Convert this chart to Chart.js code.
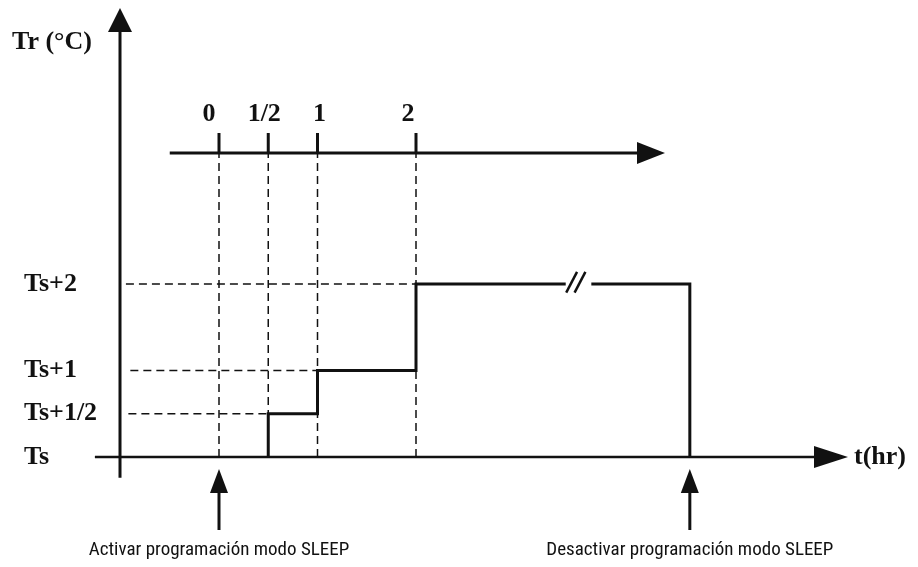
<!DOCTYPE html>
<html>
<head>
<meta charset="utf-8">
<script src="https://cdn.jsdelivr.net/npm/chart.js@4"></script>
<style>
  html, body { margin: 0; padding: 0; background: #fff; }
  #wrap { width: 918px; height: 567px; position: relative; }
</style>
</head>
<body>
<div id="wrap"><canvas id="c"></canvas></div>
<script>
'use strict';

// Time marks on the top scale (hours)
const tickTimes = [0, 0.5, 1, 2];
const tickLabels = ['0', '1/2', '1', '2'];

// Temperature levels
const levelValues = [0, 0.5, 1, 2];
const levelLabels = ['Ts', 'Ts+1/2', 'Ts+1', 'Ts+2'];

// Setpoint steps: time at which each level starts
const stepTimes = [0.5, 1, 2];
const stepLevels = [0.5, 1, 2];

// Broken time axis and switch-off time
const breakStart = 3.52;
const breakEnd = 3.78;
const endTime = 4.78;

// Event markers below the chart
const eventTimes = [0, endTime];
const eventLabels = ['Activar programación modo SLEEP', 'Desactivar programación modo SLEEP'];

// Layout in data units
const yAxisX = -1.005;
const topAxisY = 3.514;
const serif = 'bold 26px "Liberation Serif", "DejaVu Serif", serif';
const tickLabelShift = [-10, -4, 2, -8];

// Build step line
let stepData = [{ x: stepTimes[0], y: 0 }];
let prevLevel = 0;
for (let i = 0; i < stepTimes.length; i++) {
    stepData.push({ x: stepTimes[i], y: prevLevel });
    stepData.push({ x: stepTimes[i], y: stepLevels[i] });
    prevLevel = stepLevels[i];
}
stepData.push({ x: breakStart, y: prevLevel });
let tailData = [{ x: breakEnd, y: prevLevel }, { x: endTime, y: prevLevel }, { x: endTime, y: 0 }];

function solid(data, width) {
    return { data: data, showLine: true, borderColor: '#111', borderWidth: width, pointRadius: 0, fill: false, tension: 0 };
}
function dashed(data) {
    return { data: data, showLine: true, borderColor: '#111', borderWidth: 1.5, borderDash: [8, 5], pointRadius: 0, fill: false };
}

let datasets = [];

// Guide lines
const dashLeft = [-0.88, -0.92, -0.9, -0.945];
for (let i = 0; i < tickTimes.length; i++) {
    datasets.push(dashed([{ x: tickTimes[i], y: 0 }, { x: tickTimes[i], y: topAxisY }]));
}
for (let i = 1; i < levelValues.length; i++) {
    let right = tickTimes[i];
    datasets.push(dashed([{ x: dashLeft[i], y: levelValues[i] }, { x: right, y: levelValues[i] }]));
}

// Axes
datasets.push(solid([{ x: yAxisX, y: -0.24 }, { x: yAxisX, y: 5.0 }], 3));
datasets.push(solid([{ x: -1.26, y: 0 }, { x: 6.1, y: 0 }], 2.5));
datasets.push(solid([{ x: -0.5, y: topAxisY }, { x: 4.3, y: topAxisY }], 3));
for (let i = 0; i < tickTimes.length; i++) {
    datasets.push(solid([{ x: tickTimes[i], y: topAxisY }, { x: tickTimes[i], y: 3.746 }], 3));
}

// Step curve and break mark
datasets.push(solid(stepData, 3));
datasets.push(solid(tailData, 3));
datasets.push(solid([{ x: breakStart + 0.005, y: 1.9 }, { x: breakStart + 0.115, y: 2.14 }], 2.5));
datasets.push(solid([{ x: breakStart + 0.09, y: 1.9 }, { x: breakStart + 0.2, y: 2.14 }], 2.5));

// Event arrows
for (let i = 0; i < eventTimes.length; i++) {
    datasets.push(solid([{ x: eventTimes[i], y: -0.844 }, { x: eventTimes[i], y: -0.3 }], 3));
}

// Arrowheads and text
const decorPlugin = {
    id: 'decor',
    afterDatasetsDraw(chart) {
        const ctx = chart.ctx;
        const xs = chart.scales.x;
        const ys = chart.scales.y;
        const px = (v) => xs.getPixelForValue(v);
        const py = (v) => ys.getPixelForValue(v);

        function tri(ax, ay, bx, by, cx, cy) {
            ctx.beginPath();
            ctx.moveTo(ax, ay);
            ctx.lineTo(bx, by);
            ctx.lineTo(cx, cy);
            ctx.closePath();
            ctx.fill();
        }

        ctx.save();
        ctx.fillStyle = '#111';

        // y axis arrow
        let ax = px(yAxisX);
        tri(ax, 8, ax - 12, 32, ax + 12, 32);
        // time axis arrow
        let ty = py(0);
        tri(848, ty, 814, ty - 11, 814, ty + 11);
        // top scale arrow
        let sy = py(topAxisY);
        tri(665, sy, 637, sy - 11, 637, sy + 11);
        // event arrows
        for (let i = 0; i < eventTimes.length; i++) {
            let ex = px(eventTimes[i]);
            tri(ex, 469, ex - 9, 493, ex + 9, 493);
        }

        // serif labels
        ctx.font = serif;
        ctx.textBaseline = 'middle';
        ctx.textAlign = 'left';
        ctx.fillText('Tr (\u00b0C)', 12, 42);
        for (let i = 0; i < levelValues.length; i++) {
            ctx.fillText(levelLabels[i], 24, py(levelValues[i]));
        }
        ctx.fillText('t(hr)', 854, ty);

        ctx.textAlign = 'center';
        ctx.textBaseline = 'alphabetic';
        for (let i = 0; i < tickTimes.length; i++) {
            ctx.fillText(tickLabels[i], px(tickTimes[i]) + tickLabelShift[i], 121);
        }

        // event labels
        ctx.font = '19px "Liberation Sans Narrow", "Roboto Condensed", "Liberation Sans", sans-serif';
        ctx.textBaseline = 'middle';
        for (let i = 0; i < eventTimes.length; i++) {
            ctx.fillText(eventLabels[i], px(eventTimes[i]), 550);
        }
        ctx.restore();
    }
};

new Chart(document.getElementById('c').getContext('2d'), {
    type: 'scatter',
    data: { datasets: datasets },
    options: {
        responsive: true,
        maintainAspectRatio: false,
        animation: false,
        layout: { padding: 0 },
        clip: false,
        plugins: { legend: { display: false }, tooltip: { enabled: false } },
        scales: {
            x: { type: 'linear', display: false, min: -219 / 98.5, max: (918 - 219) / 98.5 },
            y: { type: 'linear', display: false, min: -110 / 86.5, max: 457 / 86.5 }
        }
    },
    plugins: [decorPlugin]
});
</script>
</body>
</html>
